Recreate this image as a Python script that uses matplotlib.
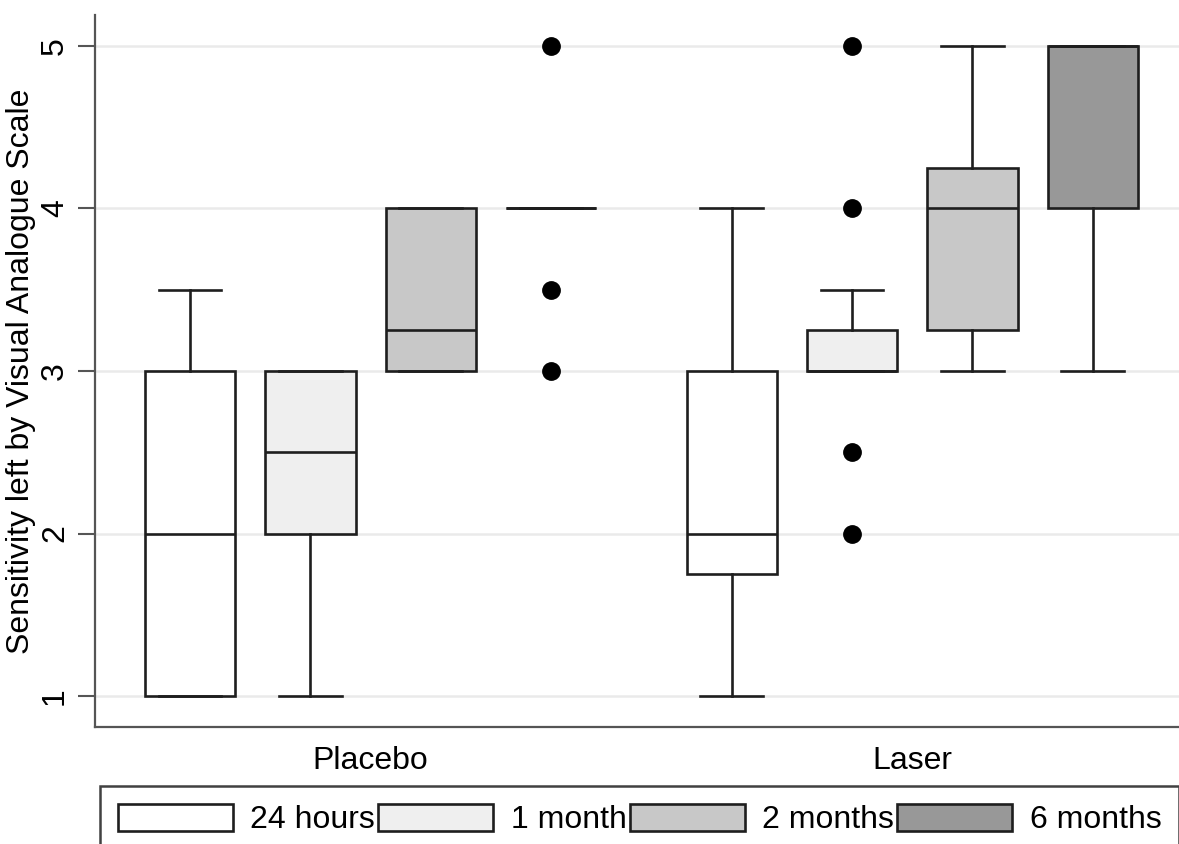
import matplotlib
matplotlib.use('Agg')
import matplotlib.pyplot as plt
from matplotlib.patches import Patch

plt.rcParams['font.family'] = ['Liberation Sans', 'DejaVu Sans']

groups = ['Placebo', 'Laser']
periods = ['24 hours', '1 month', '2 months', '6 months']
colors = ['#ffffff', '#efefef', '#c8c8c8', '#989898']

# box statistics per group, one entry per period
q1 = [[1, 2, 3, 4], [1.75, 3, 3.25, 4]]
med = [[2, 2.5, 3.25, 4], [2, 3, 4, 5]]
q3 = [[3, 3, 4, 4], [3, 3.25, 4.25, 5]]
whislo = [[1, 1, 3, 4], [1, 3, 3, 3]]
whishi = [[3.5, 3, 4, 4], [4, 3.5, 5, 5]]
fliers = [[[], [], [], [5, 3.5, 3]], [[], [5, 4, 2.5, 2], [], []]]

fig = plt.figure(figsize=(11.79, 8.44), dpi=100)
ax = fig.add_axes([95/1179, 1-727/844, 1-95/1179, (727-15)/844])

edge = '#1e1e1e'
lw = 1.9
centers = []
for g in range(len(groups)):
    stats = []
    pos = []
    for i in range(len(periods)):
        stats.append(dict(med=med[g][i], q1=q1[g][i], q3=q3[g][i],
                          whislo=whislo[g][i], whishi=whishi[g][i],
                          fliers=fliers[g][i]))
        pos.append(g * 4.5 + i)
    centers.append(sum(pos) / len(pos))
    bp = ax.bxp(stats, positions=pos, widths=0.75, capwidths=0.52,
                patch_artist=True, manage_ticks=False,
                boxprops=dict(edgecolor=edge, linewidth=lw),
                medianprops=dict(color=edge, linewidth=lw),
                whiskerprops=dict(color=edge, linewidth=lw),
                capprops=dict(color=edge, linewidth=lw),
                flierprops=dict(marker='o', markerfacecolor='black',
                                markeredgecolor='black', markersize=12.5))
    for patch, c in zip(bp['boxes'], colors):
        patch.set_facecolor(c)
    for art in bp['boxes'] + bp['medians'] + bp['whiskers'] + bp['caps'] + bp['fliers']:
        art.set_zorder(3)

ax.set_xlim(-0.79, 7.5 + 86/120)
ax.set_ylim(0.81, 5.19)
ax.set_yticks([1, 2, 3, 4, 5])
ax.set_xticks(centers)
ax.set_xticklabels(groups)
ax.tick_params(axis='x', length=0, labelsize=23, pad=14)
ax.tick_params(axis='y', length=12, width=1.5, color='#555555', labelsize=23,
               labelrotation=90, pad=6)
for lab in ax.get_yticklabels():
    lab.set_va('center')
ax.yaxis.grid(True, color='#eaeaea', linewidth=1.8, zorder=0)
ax.set_axisbelow(True)
for s in ['top', 'right']:
    ax.spines[s].set_visible(False)
for s in ['left', 'bottom']:
    ax.spines[s].set_color('#555555')
    ax.spines[s].set_linewidth(1.6)
ax.set_ylabel('Sensitivity left by Visual Analogue Scale', fontsize=23)
ax.yaxis.set_label_coords(-59/1084, 0.5)

handles = [Patch(facecolor=c, edgecolor=edge, linewidth=lw) for c in colors]
leg = fig.legend(handles, periods, loc='upper left',
                 bbox_to_anchor=(100/1179, 1-786/844), ncol=4, fontsize=23,
                 handlelength=3.6, handleheight=0.95, handletextpad=0.55,
                 columnspacing=0.1, borderpad=0.55, borderaxespad=0,
                 fancybox=False, frameon=True)
leg.get_frame().set_edgecolor('#111111')
leg.get_frame().set_linewidth(1.8)

fig.savefig('out.png', dpi=100)
